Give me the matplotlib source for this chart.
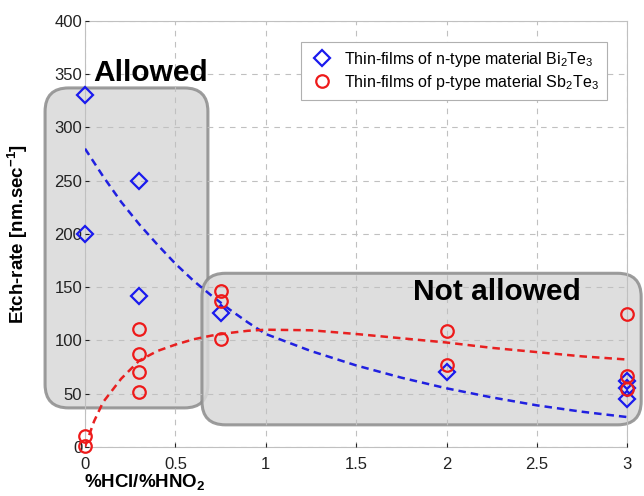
import numpy as np
import matplotlib
matplotlib.use('Agg')
import matplotlib.pyplot as plt
from matplotlib.patches import FancyBboxPatch

plt.rcParams['font.family'] = ['Liberation Sans', 'DejaVu Sans']
plt.rcParams['mathtext.default'] = 'regular'

# measured points
bi_x = [0, 0, 0.3, 0.3, 0.75, 2, 3, 3, 3]
bi_y = [330, 200, 250, 142, 126, 70, 62, 55, 45]

sb_x = [0, 0, 0.3, 0.3, 0.3, 0.3, 0.75, 0.75, 0.75, 2, 2, 3, 3, 3]
sb_y = [10, 1, 111, 87, 70, 52, 146, 137, 101, 109, 77, 125, 67, 54]

# trend lines
fit_x = [0, 0.05, 0.1, 0.2, 0.3, 0.4, 0.5, 0.6, 0.7, 0.8, 0.9, 1.0,
         1.25, 1.5, 1.75, 2, 2.25, 2.5, 2.75, 3]
bi_fit = [280, 267, 254, 230, 209, 190, 172, 156, 142, 129, 117, 106,
          90, 76.5, 65, 55, 46.5, 39, 33, 28]
sb_fit = [0, 24, 42, 64, 81, 90, 96, 101, 104.5, 107, 109, 110,
          109.5, 106, 102, 98, 93, 89, 85, 82]

xticks = [0, 0.5, 1, 1.5, 2, 2.5, 3]
xticklabels = ['0', '0.5', '1', '1.5', '2', '2.5', '3']
yticks = list(range(0, 401, 50))

fig = plt.figure(figsize=(6.44, 4.96), dpi=100)
ax = fig.add_axes([0.132, 0.099, 0.842, 0.859])

ax.set_xlim(0, 3)
ax.set_ylim(0, 400)
ax.set_xticks(xticks)
ax.set_xticklabels(xticklabels)
ax.set_yticks(yticks)
ax.tick_params(direction='in', length=3, labelsize=12, colors='#222222')
ax.tick_params(axis='x', pad=7)
ax.tick_params(axis='y', pad=2)
for s in ax.spines.values():
    s.set_color('#c0c0c0')
    s.set_linewidth(0.8)
ax.set_axisbelow(False)
ax.grid(True, linestyle=(0, (5, 5)), color='#c0c0c0', linewidth=0.8)

# shaded regions
asp = (400 / 426) / (3 / 542)
box1 = FancyBboxPatch((-0.221, 36.6), 0.901, 300.4,
                      boxstyle='round,pad=0,rounding_size=0.13',
                      mutation_aspect=asp, facecolor='#d9d9d9', alpha=0.85,
                      edgecolor='#8c8c8c', linewidth=2.2, clip_on=False, zorder=1)
box2 = FancyBboxPatch((0.647, 20.7), 2.43, 142.3,
                      boxstyle='round,pad=0,rounding_size=0.13',
                      mutation_aspect=asp, facecolor='#d9d9d9', alpha=0.85,
                      edgecolor='#8c8c8c', linewidth=2.2, clip_on=False, zorder=1)
ax.add_patch(box1)
ax.add_patch(box2)

ax.plot(fit_x, bi_fit, color='#2020e0', linestyle=(0, (3, 2)), linewidth=1.8, zorder=3)
ax.plot(fit_x, sb_fit, color='#e82020', linestyle=(0, (3, 2)), linewidth=1.8, zorder=3)

ax.plot(bi_x, bi_y, linestyle='none', marker='D', markersize=8, markerfacecolor='none',
        markeredgecolor='#1a1aee', markeredgewidth=1.6, clip_on=False, zorder=4,
        label='Thin-films of n-type material Bi$_2$Te$_3$')
ax.plot(sb_x, sb_y, linestyle='none', marker='o', markersize=9, markerfacecolor='none',
        markeredgecolor='#ee1a1a', markeredgewidth=1.6, clip_on=False, zorder=4,
        label='Thin-films of p-type material Sb$_2$Te$_3$')

ax.text(0.365, 351, 'Allowed', fontsize=21.5, fontweight='bold', ha='center', va='center', zorder=5)
ax.text(2.28, 145.5, 'Not allowed', fontsize=21.5, fontweight='bold', ha='center', va='center', zorder=5)

leg = ax.legend(loc='upper right', bbox_to_anchor=(0.963, 0.951), borderaxespad=0,
                fontsize=11.5, frameon=True, fancybox=False, edgecolor='#b0b0b0',
                framealpha=1, borderpad=0.5, handletextpad=0.6, labelspacing=0.25,
                handlelength=1.6)
leg.get_frame().set_linewidth(0.8)
leg.set_zorder(6)

ax.set_ylabel('Etch-rate [nm.sec$^{-1}$]', fontsize=13.5, fontweight='bold')
ax.yaxis.set_label_coords(-0.101, 0.5)
ax.set_xlabel('%HCl/%HNO$_2$', fontsize=13.5, fontweight='bold')
ax.xaxis.set_label_coords(0.11, -0.059)

fig.savefig('out.png', dpi=100)
